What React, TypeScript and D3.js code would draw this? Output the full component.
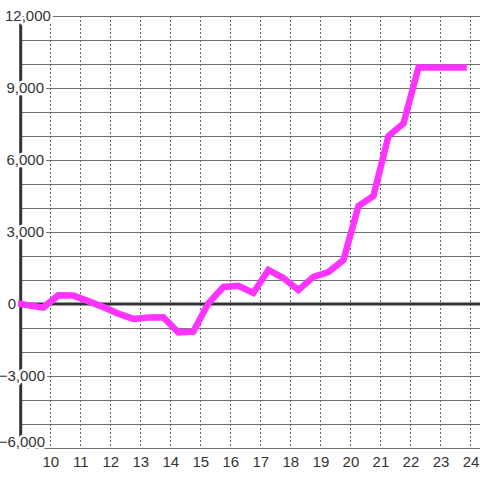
import React from "react";
import * as d3 from "d3";

const hours = [9, 9.75, 10.25, 10.75, 11.25, 11.75, 12.25, 12.75, 13.25, 13.75, 14.25, 14.75, 15.25, 15.75, 16.25, 16.75, 17.25, 17.75, 18.25, 18.75, 19.25, 19.75, 20.25, 20.75, 21.25, 21.75, 22.25, 22.75, 23.25, 23.75];
const values = [0, -150, 360, 350, 120, -130, -400, -620, -560, -550, -1180, -1150, 30, 710, 760, 460, 1420, 1080, 580, 1130, 1330, 1830, 4080, 4500, 7000, 7520, 9850, 9850, 9850, 9850];
const xTicks = [10, 11, 12, 13, 14, 15, 16, 17, 18, 19, 20, 21, 22, 23, 24];
const yGrid = d3.range(-6000, 12001, 1000);
const yLabels = [-6000, -3000, 0, 3000, 6000, 9000, 12000];

const W = 480;
const H = 480;

export default function App() {
  const x = d3.scaleLinear().domain([9, 24.3]).range([20.7, 480]);
  const y = d3.scaleLinear().domain([-6000, 12000]).range([448, 16]);
  const fmt = d3.format(",");
  const pts: [number, number][] = hours.map((h, i) => [h, values[i]]);
  const line = d3
    .line<[number, number]>()
    .x((d) => x(d[0]))
    .y((d) => y(d[1]));

  const font = "'Liberation Sans', Arial, sans-serif";

  const labelPos = (v: number) => {
    if (v === 12000) return { anchor: "start", lx: 5, ly: y(v) };
    if (v === 0) return { anchor: "end", lx: 16, ly: y(v) };
    if (v === -6000) return { anchor: "end", lx: 45, ly: y(v) - 6.5 };
    if (v < 0) return { anchor: "end", lx: 45, ly: y(v) };
    return { anchor: "end", lx: 44, ly: y(v) };
  };

  return (
    <svg
      width={W}
      height={H}
      style={{ position: "absolute", left: 0, top: 0, background: "#fff" }}
    >
      <rect width={W} height={H} fill="#fff" />
      {yGrid.map((v) => (
        <line
          key={"h" + v}
          x1={x(9)}
          x2={W}
          y1={y(v)}
          y2={y(v)}
          stroke="#707070"
          strokeWidth={1}
          shapeRendering="crispEdges"
        />
      ))}
      {xTicks.map((t) => (
        <line
          key={"v" + t}
          x1={Math.round(x(t)) - 0.5}
          x2={Math.round(x(t)) - 0.5}
          y1={y(12000)}
          y2={y(-6000)}
          stroke="#666"
          strokeWidth={1}
          strokeDasharray="2,2"
        />
      ))}
      <line
        x1={x(9)}
        x2={W}
        y1={y(0)}
        y2={y(0)}
        stroke="#333"
        strokeWidth={3}
      />
      <line
        x1={x(9)}
        x2={x(9)}
        y1={y(12000)}
        y2={y(-6000)}
        stroke="#333"
        strokeWidth={3}
      />
      <path
        d={line(pts) || ""}
        fill="none"
        stroke="#ff33ff"
        strokeWidth={6.5}
        strokeLinecap="square"
        strokeLinejoin="miter"
      />
      {yLabels.map((v) => {
        const p = labelPos(v);
        return (
          <text
            key={"yl" + v}
            x={p.lx}
            y={p.ly}
            dy="0.35em"
            textAnchor={p.anchor as any}
            fontFamily={font}
            fontSize={15}
            fill="#333"
            stroke="#fff"
            strokeWidth={5}
            strokeLinejoin="round"
            paintOrder="stroke"
          >
            {fmt(v)}
          </text>
        );
      })}
      {xTicks.map((t) => (
        <text
          key={"xl" + t}
          x={x(t)}
          y={462}
          dy="0.35em"
          textAnchor="middle"
          fontFamily={font}
          fontSize={15}
          fill="#333"
        >
          {t}
        </text>
      ))}
    </svg>
  );
}
